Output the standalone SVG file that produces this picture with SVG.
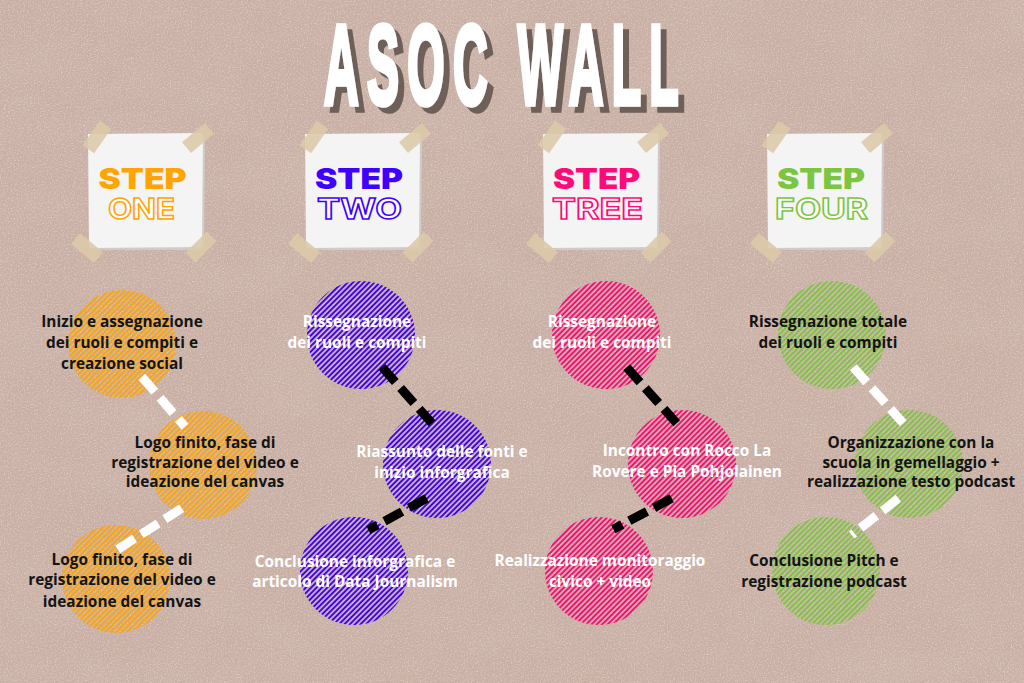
<svg xmlns="http://www.w3.org/2000/svg" xmlns:xlink="http://www.w3.org/1999/xlink" width="1024" height="683" viewBox="0 0 1024 683">
<style>
.title{font-family:"Liberation Sans",Arial,sans-serif;font-weight:700;font-size:114px;letter-spacing:20px;fill:#ffffff;stroke:#ffffff;stroke-width:5.5px;stroke-linejoin:miter;}
.step{font-family:Inter,"Liberation Sans",sans-serif;font-weight:900;font-size:28px;text-anchor:middle;}
.word{font-family:Inter,"Liberation Sans",sans-serif;font-weight:700;font-size:28px;text-anchor:middle;fill:#ffffff;stroke-width:1.4px;}
.lbl{font-family:"Open Sans","Liberation Sans",sans-serif;font-weight:700;font-size:15.4px;text-anchor:middle;}
.dark{fill:#141414;}
.light{fill:#ffffff;}
.paper{fill:#f4f4f4;}
.pshadow{fill:#cfcbc8;}
.tape{fill:#dccaa8;opacity:0.88;}
.conn{fill:none;stroke-width:9;stroke-dasharray:20 8;}
.cw{stroke:#ffffff;}
.cb{stroke:#000000;}
</style>
<defs>
<pattern id="hO" patternUnits="userSpaceOnUse" width="3.8" height="3.8" patternTransform="rotate(45)"><rect width="1.9" height="3.8" fill="#ffa400"/></pattern>
<pattern id="hB" patternUnits="userSpaceOnUse" width="3.8" height="3.8" patternTransform="rotate(45)"><rect width="1.9" height="3.8" fill="#3f00ff"/></pattern>
<pattern id="hP" patternUnits="userSpaceOnUse" width="3.8" height="3.8" patternTransform="rotate(45)"><rect width="1.9" height="3.8" fill="#ff0a78"/></pattern>
<pattern id="hG" patternUnits="userSpaceOnUse" width="3.8" height="3.8" patternTransform="rotate(45)"><rect width="1.9" height="3.8" fill="#7cc540"/></pattern>
<rect id="tape" class="tape" x="-15" y="-7" width="30" height="14"/>
<filter id="grain" x="0" y="0" width="100%" height="100%">
<feTurbulence type="fractalNoise" baseFrequency="0.85" numOctaves="2" seed="4" result="n"/>
<feColorMatrix in="n" type="matrix" values="0 0 0 0 0.55  0 0 0 0 0.42  0 0 0 0 0.37  2.2 0 0 0 -0.95"/>
</filter>
<filter id="speck" x="0" y="0" width="100%" height="100%">
<feTurbulence type="fractalNoise" baseFrequency="0.7" numOctaves="2" seed="21" result="n"/>
<feColorMatrix in="n" type="matrix" values="0 0 0 0 0.9  0 0 0 0 0.83  0 0 0 0 0.8  0 2.2 0 0 -1.0"/>
</filter>
<filter id="mottle" x="0" y="0" width="100%" height="100%">
<feTurbulence type="fractalNoise" baseFrequency="0.012 0.02" numOctaves="3" seed="9" result="m"/>
<feColorMatrix in="m" type="matrix" values="0 0 0 0 0.66  0 0 0 0 0.52  0 0 0 0 0.46  1.2 0 0 0 -0.45"/>
</filter>
<filter id="tshadow" filterUnits="userSpaceOnUse" x="280" y="0" width="520" height="140">
<feOffset in="SourceAlpha" dx="6" dy="6" result="o"/>
<feFlood flood-color="#6e5f59"/>
<feComposite in2="o" operator="in" result="s"/>
<feMerge><feMergeNode in="s"/><feMergeNode in="SourceGraphic"/></feMerge>
</filter>
<g id="note">
<polygon class="pshadow" points="90,136 205,135 204,250 91,250"/>
<polygon class="paper" points="88,134 203,133 202,247 89,248"/>
<use href="#tape" transform="translate(97,137) rotate(-55)"/>
<use href="#tape" transform="translate(198,138) rotate(-40)"/>
<use href="#tape" transform="translate(87,248) rotate(40)"/>
<use href="#tape" transform="translate(201,247) rotate(-45)"/>
</g>
</defs>

<rect width="1024" height="683" fill="#c9afa4"/>
<rect width="1024" height="683" filter="url(#mottle)" opacity="0.5"/>
<rect width="1024" height="683" filter="url(#grain)" opacity="0.6"/>
<rect width="1024" height="683" filter="url(#speck)" opacity="0.5"/>

<g id="title" filter="url(#tshadow)">
<text class="title" x="324" y="104" textLength="363" lengthAdjust="spacingAndGlyphs">ASOC WALL</text>
</g>

<g id="step-one">
<use href="#note"/>
<text class="step" x="142.5" y="189" textLength="88" lengthAdjust="spacingAndGlyphs" fill="#ffa400">STEP</text>
<text class="word" x="141.5" y="218.5" textLength="67" lengthAdjust="spacingAndGlyphs" stroke="#ffa400">ONE</text>
</g>
<g id="step-two" transform="translate(217,0)">
<use href="#note"/>
<text class="step" x="142" y="189" textLength="88" lengthAdjust="spacingAndGlyphs" fill="#3f00ff">STEP</text>
<text class="word" x="142.5" y="218.5" textLength="85" lengthAdjust="spacingAndGlyphs" stroke="#3f00ff">TWO</text>
</g>
<g id="step-three" transform="translate(455,0)">
<use href="#note"/>
<text class="step" x="141.5" y="189" textLength="87" lengthAdjust="spacingAndGlyphs" fill="#ff0a78">STEP</text>
<text class="word" x="142.5" y="218.5" textLength="91" lengthAdjust="spacingAndGlyphs" stroke="#ff0a78">TREE</text>
</g>
<g id="step-four" transform="translate(679,0)">
<use href="#note"/>
<text class="step" x="142" y="189" textLength="88" lengthAdjust="spacingAndGlyphs" fill="#7cc540">STEP</text>
<text class="word" x="142.5" y="218.5" textLength="93" lengthAdjust="spacingAndGlyphs" stroke="#7cc540">FOUR</text>
</g>

<g id="circles">
<circle id="c1a" cx="122" cy="344" r="54" fill="url(#hO)"/>
<circle id="c1b" cx="203" cy="465" r="54" fill="url(#hO)"/>
<circle id="c1c" cx="116" cy="579" r="54" fill="url(#hO)"/>
<circle id="c2a" cx="361" cy="335" r="54" fill="url(#hB)"/>
<circle id="c2b" cx="437" cy="464" r="54" fill="url(#hB)"/>
<circle id="c2c" cx="354" cy="571" r="54" fill="url(#hB)"/>
<circle id="c3a" cx="606" cy="335" r="54" fill="url(#hP)"/>
<circle id="c3b" cx="682" cy="464" r="54" fill="url(#hP)"/>
<circle id="c3c" cx="599" cy="571" r="54" fill="url(#hP)"/>
<circle id="c4a" cx="832" cy="335" r="54" fill="url(#hG)"/>
<circle id="c4b" cx="909" cy="464" r="54" fill="url(#hG)"/>
<circle id="c4c" cx="826" cy="571" r="54" fill="url(#hG)"/>
</g>

<g id="connectors">
<line class="conn cw" x1="141.7" y1="376.7" x2="185" y2="426.7"/>
<line class="conn cw" x1="181.7" y1="508.3" x2="116.7" y2="550"/>
<line class="conn cb" x1="382" y1="367" x2="432" y2="423.3"/>
<line class="conn cb" x1="426.7" y1="498.3" x2="368.3" y2="530"/>
<line class="conn cb" x1="626.7" y1="367.3" x2="676.7" y2="423.3"/>
<line class="conn cb" x1="671.7" y1="498.3" x2="613.3" y2="529.3"/>
<line class="conn cw" x1="853.3" y1="367.3" x2="903.3" y2="423.3"/>
<line class="conn cw" x1="898.3" y1="498.3" x2="851.7" y2="535"/>
</g>

<g id="node-1a"><text class="lbl dark"><tspan x="122" y="327">Inizio e assegnazione</tspan><tspan x="122" y="348">dei ruoli e compiti e</tspan><tspan x="122" y="369">creazione social</tspan></text></g>
<g id="node-1b"><text class="lbl dark"><tspan x="205" y="448">Logo finito, fase di</tspan><tspan x="205" y="468">registrazione del video e</tspan><tspan x="205" y="487">ideazione del canvas</tspan></text></g>
<g id="node-1c"><text class="lbl dark"><tspan x="122" y="565">Logo finito, fase di</tspan><tspan x="122" y="585">registrazione del video e</tspan><tspan x="122" y="607">ideazione del canvas</tspan></text></g>

<g id="node-2a"><text class="lbl light"><tspan x="357" y="327">Rissegnazione</tspan><tspan x="357" y="348">dei ruoli e compiti</tspan></text></g>
<g id="node-2b"><text class="lbl light"><tspan x="442" y="457">Riassunto delle fonti e</tspan><tspan x="442" y="478">inizio inforgrafica</tspan></text></g>
<g id="node-2c"><text class="lbl light"><tspan x="355" y="567">Conclusione inforgrafica e</tspan><tspan x="355" y="587">articolo di Data Journalism</tspan></text></g>

<g id="node-3a"><text class="lbl light"><tspan x="602" y="327">Rissegnazione</tspan><tspan x="602" y="348">dei ruoli e compiti</tspan></text></g>
<g id="node-3b"><text class="lbl light"><tspan x="687" y="456">Incontro con Rocco La</tspan><tspan x="687" y="477">Rovere e Pia Pohjolainen</tspan></text></g>
<g id="node-3c"><text class="lbl light"><tspan x="600" y="566">Realizzazione monitoraggio</tspan><tspan x="600" y="587">civico + video</tspan></text></g>

<g id="node-4a"><text class="lbl dark"><tspan x="828" y="327">Rissegnazione totale</tspan><tspan x="828" y="348">dei ruoli e compiti</tspan></text></g>
<g id="node-4b"><text class="lbl dark"><tspan x="911" y="448">Organizzazione con la</tspan><tspan x="911" y="468">scuola in gemellaggio +</tspan><tspan x="911" y="487">realizzazione testo podcast</tspan></text></g>
<g id="node-4c"><text class="lbl dark"><tspan x="824" y="566">Conclusione Pitch e</tspan><tspan x="824" y="587">registrazione podcast</tspan></text></g>
</svg>
